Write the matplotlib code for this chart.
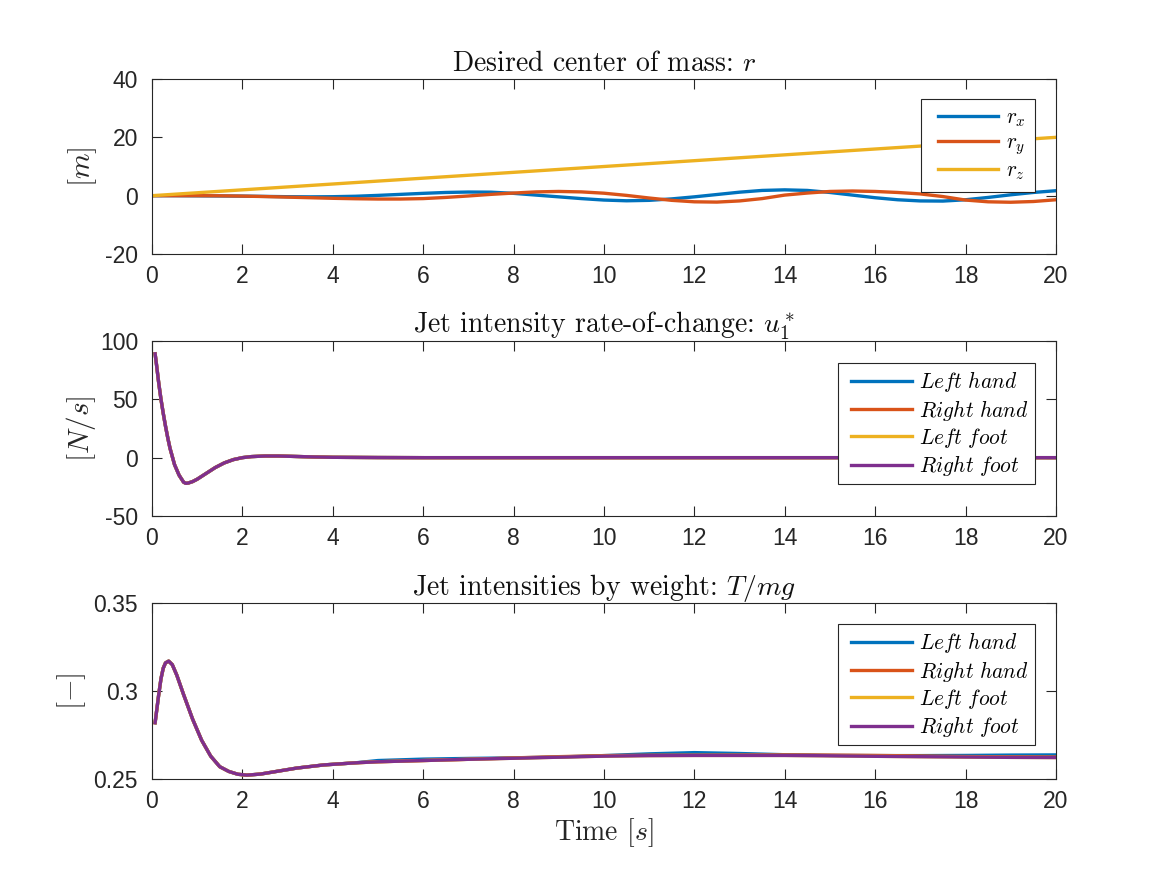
"""Jet-powered humanoid: desired CoM, jet intensity rate and thrust by weight."""

import matplotlib

matplotlib.use("Agg")
import matplotlib.pyplot as plt
from matplotlib.legend_handler import HandlerLine2D
from matplotlib.lines import Line2D

plt.rcParams["mathtext.fontset"] = "cm"
plt.rcParams["axes.unicode_minus"] = False
plt.rcParams["font.family"] = ["Liberation Sans", "DejaVu Sans"]

# --- desired center of mass [m] ---
com_time = [0, 0.5, 1, 1.5, 2, 2.5, 3, 3.5, 4, 4.5, 5, 5.5, 6, 6.5, 7, 7.5, 8, 8.5, 9, 9.5,
            10, 10.5, 11, 11.5, 12, 12.5, 13, 13.5, 14, 14.5, 15, 15.5, 16, 16.5, 17, 17.5,
            18, 18.5, 19, 19.5, 20]
r_x = [0, 0, -0.05, -0.1, -0.15, -0.25, -0.35, -0.4, -0.35, -0.2, 0.1, 0.45, 0.8, 1.1, 1.25,
       1.2, 0.8, 0.2, -0.4, -1.0, -1.5, -1.75, -1.6, -1.1, -0.4, 0.4, 1.2, 1.8, 2.0, 1.8,
       1.1, 0.2, -0.7, -1.4, -1.8, -1.85, -1.4, -0.6, 0.3, 1.1, 1.7]
r_y = [0, 0, 0, -0.05, -0.15, -0.3, -0.5, -0.7, -0.9, -1.05, -1.15, -1.15, -1.0, -0.6, -0.1,
       0.45, 0.9, 1.3, 1.45, 1.3, 0.85, 0.1, -0.8, -1.6, -2.1, -2.2, -1.8, -1.0, 0.2, 0.9,
       1.45, 1.6, 1.45, 1.1, 0.6, -0.3, -1.5, -2.1, -2.25, -2.0, -1.4]
rz_time = [0, 20]
r_z = [0, 20]

# --- jet intensity rate-of-change u1* [N/s] (same for all four jets) ---
u_time = [0.07, 0.1, 0.15, 0.2, 0.25, 0.3, 0.35, 0.4, 0.45, 0.5, 0.6, 0.7, 0.75, 0.8, 0.9,
          1.0, 1.2, 1.4, 1.6, 1.8, 2.0, 2.2, 2.5, 2.8, 3.2, 3.6, 4.0, 5, 6, 8, 10, 12, 14,
          16, 18, 20]
u_star = [89, 80, 64, 50, 38, 27, 17, 8, 1, -6, -15, -21, -22, -21.8, -20.5, -18.5, -13.5,
          -8.5, -4.5, -1.7, 0, 0.9, 1.4, 1.4, 1.0, 0.6, 0.3, 0.1, 0, 0, 0, 0, 0, 0, 0, 0]

# --- jet intensities by weight T/mg [-] ---
t_time = [0.07, 0.15, 0.2, 0.25, 0.3, 0.37, 0.45, 0.55, 0.7, 0.9, 1.1, 1.3, 1.5, 1.7, 1.9,
          2.1, 2.4, 2.8, 3.2, 3.8, 4.5, 5, 6, 7, 8, 9, 10, 11, 12, 13, 14, 15, 16, 17, 18,
          19, 20]
_start = [0.282, 0.298, 0.307, 0.313, 0.316, 0.317, 0.315, 0.309, 0.298, 0.284, 0.272,
          0.263, 0.257, 0.2543, 0.2527, 0.2522, 0.2528, 0.2545, 0.2562, 0.258, 0.2592]
tmg_left_hand = _start + [0.2605, 0.2613, 0.2617, 0.262, 0.2625, 0.2633, 0.2643, 0.2650,
                          0.2645, 0.2638, 0.2634, 0.2633, 0.2633, 0.2634, 0.2636, 0.2637]
tmg_right_hand = _start + [0.2598, 0.2605, 0.2612, 0.262, 0.2627, 0.2633, 0.2635, 0.2635,
                           0.2636, 0.2637, 0.2636, 0.2634, 0.2631, 0.2628, 0.2626, 0.2625]
tmg_left_foot = _start + [0.2598, 0.2605, 0.2612, 0.2618, 0.2624, 0.263, 0.2633, 0.2634,
                          0.2634, 0.2634, 0.2632, 0.2629, 0.2627, 0.2625, 0.2623, 0.2622]
tmg_right_foot = _start + [0.2598, 0.2605, 0.2612, 0.2618, 0.2624, 0.263, 0.2633, 0.2634,
                           0.2634, 0.2634, 0.2632, 0.2629, 0.2627, 0.2625, 0.2623, 0.2622]

jet_labels = [r"$Left\ hand$", r"$Right\ hand$", r"$Left\ foot$", r"$Right\ foot$"]
com_labels = [r"$r_x$", r"$r_y$", r"$r_z$"]
colors = ["#0072BD", "#D95319", "#EDB120", "#7E2F8E"]
dark = "#262626"
LW = 2.4


def _style(ax, ylim, yticks, title, ylabel, labelpad):
    ax.set_xlim(0, 20)
    ax.set_xticks(range(0, 21, 2))
    ax.set_ylim(*ylim)
    ax.set_yticks(yticks)
    for sp in ax.spines.values():
        sp.set_color(dark)
        sp.set_linewidth(0.8)
    ax.tick_params(direction="in", length=7, width=0.8, color=dark, labelcolor=dark,
                   labelsize=16.5, top=True, right=True)
    ax.tick_params(axis="y", pad=10)
    ax.tick_params(axis="x", pad=8)
    ax.set_title(title, fontsize=20, family="cmr10", color="#111111", pad=6)
    ax.set_ylabel(ylabel, fontsize=21, color=dark, labelpad=labelpad)


def _legend(ax, anchor, borderpad=0.3, labelspacing=0.15):
    # xpad pushes the line sample away from the frame, like MATLAB's wider inner margin
    leg = ax.legend(loc="upper right", bbox_to_anchor=anchor, fontsize=15.4,
                    fancybox=False, framealpha=1, edgecolor=dark, handlelength=3.15,
                    borderpad=borderpad, labelspacing=labelspacing, handletextpad=0.35,
                    borderaxespad=0, handler_map={Line2D: HandlerLine2D(xpad=0.3)})
    leg.get_frame().set_linewidth(0.8)


fig = plt.figure(figsize=(11.67, 8.75), dpi=100)
ax1 = fig.add_axes([0.1302, 0.7097, 0.7746, 0.2])
ax2 = fig.add_axes([0.1302, 0.4103, 0.7746, 0.2])
ax3 = fig.add_axes([0.1302, 0.1097, 0.7746, 0.2011])

ax1.plot(com_time, r_x, color=colors[0], lw=LW, label=com_labels[0])
ax1.plot(com_time, r_y, color=colors[1], lw=LW, label=com_labels[1])
ax1.plot(rz_time, r_z, color=colors[2], lw=LW, label=com_labels[2])
_style(ax1, (-20, 40), [-20, 0, 20, 40], r"Desired center of mass: $r$", r"$[m]$", 4)
_legend(ax1, (0.977, 0.886), borderpad=0.45, labelspacing=0.2)

for c, lab in zip(colors, jet_labels):
    ax2.plot(u_time, u_star, color=c, lw=LW, label=lab)
_style(ax2, (-50, 100), [-50, 0, 50, 100], r"Jet intensity rate-of-change: $u_1^*$",
       r"$[N/s]$", 1)
_legend(ax2, (0.977, 0.874))

for series, c, lab in zip([tmg_left_hand, tmg_right_hand, tmg_left_foot, tmg_right_foot],
                          colors, jet_labels):
    ax3.plot(t_time, series, color=c, lw=LW, label=lab)
_style(ax3, (0.25, 0.35), [0.25, 0.3, 0.35], r"Jet intensities by weight: $T/mg$",
       r"$[-]$", 4)
ax3.set_yticklabels(["0.25", "0.3", "0.35"])
ax3.set_xlabel(r"Time $[s]$", fontsize=20, family="cmr10", color=dark, labelpad=2)
_legend(ax3, (0.977, 0.881))

fig.savefig("out.png", dpi=100, facecolor="white")
plt.close(fig)
